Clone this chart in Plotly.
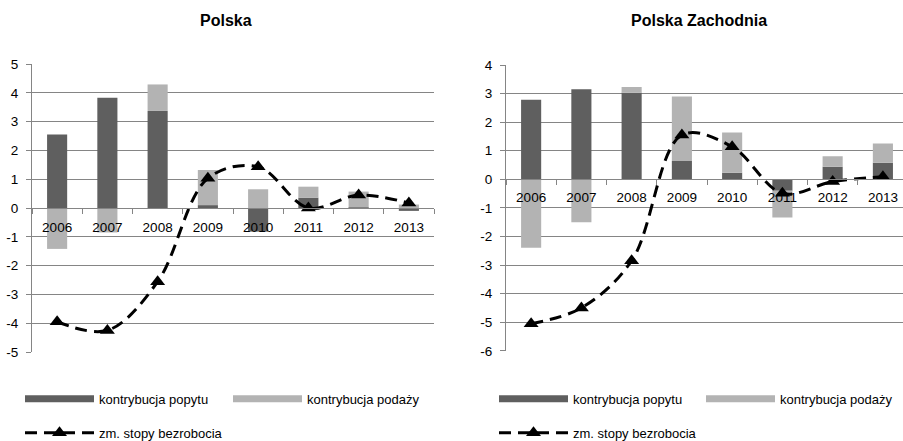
import plotly.graph_objects as go

years = ['2006', '2007', '2008', '2009', '2010', '2011', '2012', '2013']

# Polska
pl_demand = [2.55, 3.83, 3.37, 0.10, -0.82, 0.36, 0.02, -0.10]
pl_supply = [-1.42, -0.85, 0.92, 1.22, 0.65, 0.38, 0.55, 0.12]
pl_unemp = [-3.95, -4.25, -2.56, 1.03, 1.43, 0.00, 0.45, 0.17]
pl_yticks = [-5, -4, -3, -2, -1, 0, 1, 2, 3, 4, 5]
pl_yticklabels = ['-5', '-4', '-3', '-2', '-1', '0', '1', '2', '3', '4', '5']

# Polska Zachodnia
pz_demand = [2.78, 3.15, 3.03, 0.64, 0.23, -0.40, 0.44, 0.58]
pz_supply = [-2.39, -1.50, 0.20, 2.26, 1.41, -0.94, 0.37, 0.67]
pz_unemp = [-5.05, -4.50, -2.85, 1.55, 1.14, -0.49, -0.08, 0.09]
pz_yticks = [-6, -5, -4, -3, -2, -1, 0, 1, 2, 3, 4]
pz_yticklabels = ['-6', '-5', '-4', '-3', '-2', '-1', '0', '1', '2', '3', '4']

titles = ['Polska', 'Polska Zachodnia']
name_demand = 'kontrybucja popytu'
name_supply = 'kontrybucja podaży'
name_unemp = 'zm. stopy bezrobocia'

W, H = 903, 441
DARK = '#5f5f5f'
LIGHT = '#b3b3b3'
GRID = '#858585'
FONT = 'Liberation Sans, Arial, sans-serif'


def px_x(p):
    return p / W


def px_y(p):
    return 1 - p / H


fig = go.Figure()

panels = [
    dict(demand=pl_demand, supply=pl_supply, unemp=pl_unemp, xa='x', ya='y',
         xdom=[px_x(32), px_x(434)], ydom=[px_y(352), px_y(64)], yr=[-5, 5],
         yt=pl_yticks, ytl=pl_yticklabels,
         xr=[-0.5, 7.5], lg1='legend', lg2='legend2', standoff=7),
    dict(demand=pz_demand, supply=pz_supply, unemp=pz_unemp, xa='x2', ya='y2',
         xdom=[px_x(506), 1.0], ydom=[px_y(350.8), px_y(65)], yr=[-6, 4],
         yt=pz_yticks, ytl=pz_yticklabels,
         xr=[-0.5, 7.4], lg1='legend3', lg2='legend4', standoff=5),
]

for p in panels:
    fig.add_trace(go.Bar(x=years, y=p['demand'], name=name_demand, marker_color=DARK,
                         marker_line_width=0, xaxis=p['xa'], yaxis=p['ya'], showlegend=False))
    fig.add_trace(go.Bar(x=years, y=p['supply'], name=name_supply, marker_color=LIGHT,
                         marker_line_width=0, xaxis=p['xa'], yaxis=p['ya'], showlegend=False))
    fig.add_trace(go.Scatter(x=years, y=p['unemp'], name=name_unemp, mode='lines+markers',
                             line=dict(color='black', width=3, dash='12px,7px', shape='spline', smoothing=1),
                             marker=dict(symbol='triangle-up', size=13, color='black'),
                             xaxis=p['xa'], yaxis=p['ya'], legend=p['lg2']))
    # legend entries for bars (wide swatches)
    fig.add_trace(go.Scatter(x=[None], y=[None], name=name_demand, mode='lines',
                             line=dict(color=DARK, width=7), xaxis=p['xa'], yaxis=p['ya'],
                             legend=p['lg1']))
    fig.add_trace(go.Scatter(x=[None], y=[None], name=name_supply, mode='lines',
                             line=dict(color=LIGHT, width=7), xaxis=p['xa'], yaxis=p['ya'],
                             legend=p['lg1']))

layout = dict(
    width=W, height=H, margin=dict(l=0, r=0, t=0, b=0, autoexpand=False),
    paper_bgcolor='white', plot_bgcolor='white',
    barmode='relative', bargap=0.6,
    font=dict(family=FONT, size=13, color='black'),
)

for i, p in enumerate(panels):
    suf = '' if i == 0 else '2'
    ydom = p['ydom']
    yr = p['yr']
    pos = ydom[0] + (0 - yr[0]) / (yr[1] - yr[0]) * (ydom[1] - ydom[0])
    layout['xaxis' + suf] = dict(
        domain=p['xdom'], range=p['xr'], type='category', anchor='free', position=pos,
        showline=True, linecolor=GRID, linewidth=1, ticks='outside', tickson='boundaries',
        ticklen=5, tickcolor=GRID, showgrid=False, ticklabelstandoff=p['standoff'],
        tickfont=dict(family=FONT, size=13.5, color='black'), fixedrange=True,
    )
    layout['yaxis' + suf] = dict(
        domain=ydom, range=yr, tickvals=p['yt'], ticktext=p['ytl'], anchor='x' + suf,
        showline=True, linecolor=GRID,
        ticks='outside', ticklen=5, tickcolor=GRID, showgrid=True, gridcolor=GRID,
        gridwidth=1, zeroline=False, tickfont=dict(family=FONT, size=13.5, color='black'),
        ticklabelstandoff=5,
    )

leg_common = dict(orientation='h', xanchor='left', yanchor='middle', itemwidth=69,
                  bgcolor='rgba(0,0,0,0)', font=dict(family=FONT, size=13),
                  itemclick=False, itemdoubleclick=False)
layout['legend'] = dict(leg_common, x=px_x(20), y=px_y(398.7), entrywidth=124)
layout['legend2'] = dict(leg_common, x=px_x(20), y=px_y(432.7))
layout['legend3'] = dict(leg_common, x=px_x(494), y=px_y(398.7), entrywidth=123)
layout['legend4'] = dict(leg_common, x=px_x(494), y=px_y(432.7))

layout['annotations'] = [
    dict(text='<b>' + titles[0] + '</b>', x=px_x(226), y=px_y(20.5), xref='paper', yref='paper',
         showarrow=False, font=dict(family=FONT, size=16), xanchor='center', yanchor='middle'),
    dict(text='<b>' + titles[1] + '</b>', x=px_x(699), y=px_y(20.5), xref='paper', yref='paper',
         showarrow=False, font=dict(family=FONT, size=16), xanchor='center', yanchor='middle'),
]

fig.update_layout(**layout)
fig.write_html('out.html', config={'displayModeBar': False},
               post_script="document.body.style.margin='0';document.body.style.overflow='hidden';")
